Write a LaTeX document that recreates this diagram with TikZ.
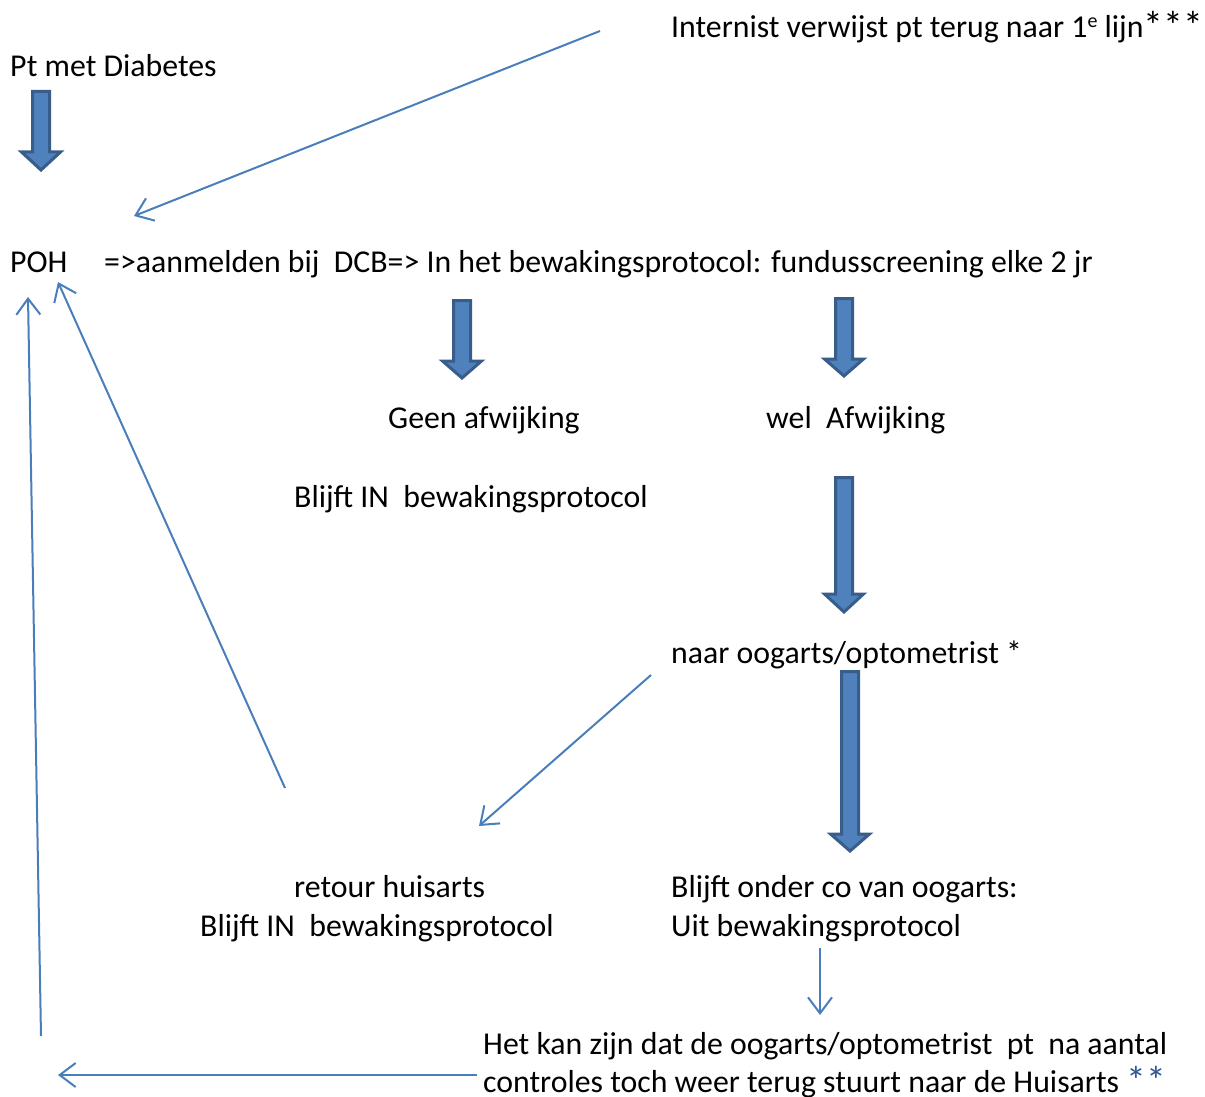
\documentclass[tikz,border=0pt]{standalone}
\usepackage{fontspec}
\setmainfont{Carlito}
\usetikzlibrary{arrows.meta}
\definecolor{blockfill}{HTML}{4F81BD}
\definecolor{blockline}{HTML}{385D8A}
\definecolor{thinline}{HTML}{4A7EBB}
\definecolor{starblue}{RGB}{47,84,150}
\tikzset{
  txt/.style={anchor=base west, inner sep=0pt, font=\fontsize{31.8}{38}\selectfont},
  thin/.style={draw=thinline, line width=2pt, -{Straight Barb[length=16pt,width=24pt,line width=2pt]}},
  blockarrow/.style={fill=blockfill, draw=blockline, line width=3pt, line join=miter}
}
% #1 = centre x, #2 = top y, #3 = head start y, #4 = tip y, #5 = shaft half width
\newcommand{\blkarrow}[5]{%
  \path[blockarrow] (#1-#5,#2) -- (#1+#5,#2) -- (#1+#5,#3) -- (#1+19.5,#3) -- (#1,#4)
    -- (#1-19.5,#3) -- (#1-#5,#3) -- cycle;}
\begin{document}
\begin{tikzpicture}[x=1pt,y=-1pt]
\useasboundingbox (0,0) rectangle (1205,1097);
% texts
\node[txt] (intern) at (671,38) {Internist verwijst pt terug naar 1\raisebox{10pt}{\fontsize{20}{20}\selectfont e} lijn\raisebox{-2pt}{\scalebox{1.25}{***}}};
\node[txt] (pt) at (10,77) {Pt met Diabetes};
\node[txt] (poh) at (10,272) {POH};
\node[txt] (dcb) at (104,272) {=>aanmelden bij\ \ DCB=> In het bewakingsprotocol: fundusscreening elke 2 jr};
\node[txt] (geen) at (388,428) {Geen afwijking};
\node[txt] (wel) at (766,428) {wel\ \ Afwijking};
\node[txt] (blijft1) at (294,507) {Blijft IN\ \ bewakingsprotocol};
\node[txt] (naar) at (671,663) {naar oogarts/optometrist *};
\node[txt] (retour) at (294,897) {retour huisarts};
\node[txt] (blijft2) at (200,936) {Blijft IN\ \ bewakingsprotocol};
\node[txt] (onder) at (671,897) {Blijft onder co van oogarts:};
\node[txt] (uit) at (671,936) {Uit bewakingsprotocol};
\node[txt] (kan1) at (483,1054) {Het kan zijn dat de oogarts/optometrist\ \ pt\ \ na aantal};
\node[txt] (kan2) at (483,1092) {controles toch weer terug stuurt naar de Huisarts {\color{starblue}\raisebox{-2pt}{\scalebox{1.25}{**}}}};
% block arrows
\blkarrow{41}{91.5}{152}{170}{8.5}
\blkarrow{462}{300.5}{361}{378}{8.5}
\blkarrow{844}{298.5}{359}{376}{8.5}
\blkarrow{844}{477.5}{594}{612}{8.5}
\blkarrow{850}{671.5}{834}{851}{8.5}
% thin connector coordinates
\coordinate (a1) at (600,31);
\coordinate (a2) at (134,216);
\coordinate (b1) at (285,788);
\coordinate (b2) at (58,282);
\coordinate (c1) at (41,1036);
\coordinate (c2) at (28,297);
\coordinate (d1) at (651,675);
\coordinate (d2) at (479,826);
\coordinate (e1) at (820,948);
\coordinate (e2) at (820,1015);
\coordinate (f1) at (477,1075);
\coordinate (f2) at (58,1075);
\draw[thin] (a1) -- (a2);
\draw[thin] (b1) -- (b2);
\draw[thin] (c1) -- (c2);
\draw[thin] (d1) -- (d2);
\draw[thin] (e1) -- (e2);
\draw[thin] (f1) -- (f2);
\end{tikzpicture}
\end{document}
